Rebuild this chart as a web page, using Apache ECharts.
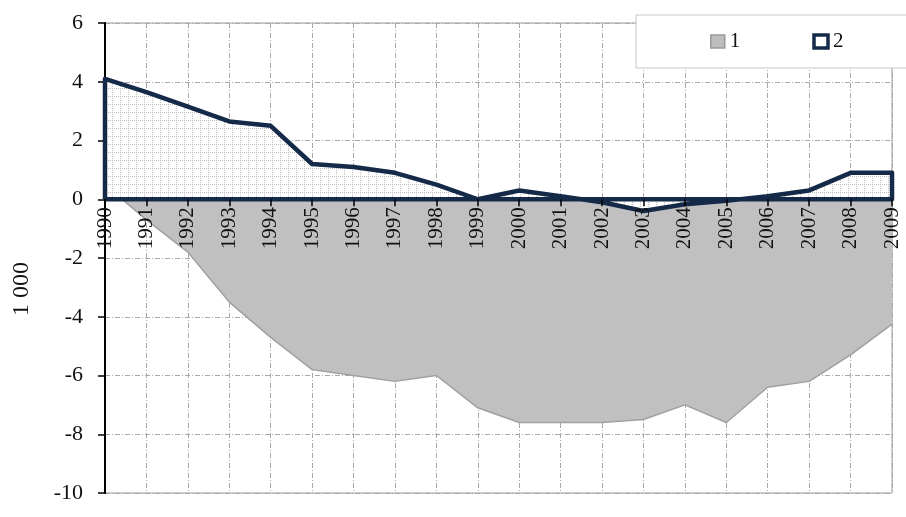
<!DOCTYPE html>
<html>
<head>
<meta charset="utf-8">
<title>Area chart 1990-2009</title>
<script src="https://cdn.jsdelivr.net/npm/echarts@6/dist/echarts.min.js"></script>
<style>html, body {margin: 0; padding: 0; background: #fff;}</style>
</head>
<body>
<div id="main" style="width: 906px; height: 517px;"></div>
<script type="text/javascript">
var years = [1990, 1991, 1992, 1993, 1994, 1995, 1996, 1997, 1998, 1999,
             2000, 2001, 2002, 2003, 2004, 2005, 2006, 2007, 2008, 2009];
var series1 = [0.5, -0.7, -1.8, -3.5, -4.7, -5.8, -6.0, -6.2, -6.0, -7.1,
               -7.6, -7.6, -7.6, -7.5, -7.0, -7.6, -6.4, -6.2, -5.3, -4.25];
var series2 = [4.1, 3.65, 3.15, 2.65, 2.5, 1.2, 1.1, 0.9, 0.5, 0,
               0.3, 0.1, -0.1, -0.4, -0.17, -0.05, 0.1, 0.3, 0.9, 0.9];
var yTicks = [-10, 6, 2]; // min, max, step
var legendNames = ['1', '2'];

var serif = 'Liberation Serif';
var navy = '#142a48';
var gridTop = 23, gridBottom = 24, chartH = 517;
var plotH = chartH - gridTop - gridBottom;
// move the year axis up to the zero line
var xAxisOffset = -(0 - yTicks[0]) / (yTicks[1] - yTicks[0]) * plotH;
var gridDash = {color: '#a8a8a8', type: [5, 2, 1, 2], width: 1};

// small dotted grid used as fill for series 2
function dotPattern() {
  var c = document.createElement('canvas');
  c.width = 8; c.height = 8;
  var ctx = c.getContext('2d');
  ctx.fillStyle = '#ffffff';
  ctx.fillRect(0, 0, 8, 8);
  ctx.fillStyle = '#bdbdbd';
  for (var i = 0; i < 8; i += 2) {
    ctx.fillRect(i, 0, 1, 1);
    ctx.fillRect(0, i, 1, 1);
  }
  return c;
}

var pts1 = years.map(function (y, i) { return [y, series1[i]]; });
var pts2 = years.map(function (y, i) { return [y, series2[i]]; });
var last = years.length - 1;
// outline of the area 2 shape, closed along the zero line
var outline2 = [[years[0], 0]].concat(pts2, [[years[last], 0], [years[0], 0]]);

var chart = echarts.init(document.getElementById('main'));
var option = {
  backgroundColor: '#ffffff',
  animation: false,
  grid: {left: 105, right: 14, top: gridTop, bottom: gridBottom, show: true,
         outerBoundsMode: 'none', containLabel: false,
         borderColor: '#9a9a9a', borderWidth: 1, backgroundColor: 'transparent'},
  legend: {
    left: 636, top: 15,
    width: 210,
    padding: [16, 70, 16, 74],
    itemGap: 72,
    itemWidth: 14, itemHeight: 13,
    backgroundColor: '#ffffff',
    borderColor: '#c8c8c8', borderWidth: 1,
    textStyle: {fontFamily: serif, fontSize: 21, color: '#111'},
    data: [
      {name: legendNames[0], icon: 'rect',
       itemStyle: {color: '#bdbdbd', borderColor: '#9a9a9a', borderWidth: 1.5}},
      {name: legendNames[1], icon: 'rect',
       itemStyle: {color: '#ffffff', borderColor: navy, borderWidth: 3.5}}
    ]
  },
  graphic: [{
    type: 'text', left: 10, top: 262,
    rotation: Math.PI / 2,
    style: {text: '1 000', fontFamily: serif, fontSize: 24, fill: '#111'}
  }],
  xAxis: [
    {
      // vertical grid lines, under the areas
      type: 'value', min: years[0], max: years[last], interval: 1,
      axisLine: {show: false}, axisTick: {show: false}, axisLabel: {show: false},
      splitLine: {show: true, lineStyle: gridDash}
    },
    {
      // year ticks and labels on the zero line, above the areas
      type: 'value', min: years[0], max: years[last], interval: 1,
      position: 'bottom', offset: xAxisOffset, z: 10,
      axisLine: {show: false, onZero: false},
      axisTick: {show: true, length: 7, lineStyle: {color: '#000', width: 1.5}},
      axisLabel: {rotate: 90, margin: 8, fontFamily: serif, fontSize: 21, color: '#111',
                  hideOverlap: false, showMinLabel: true, showMaxLabel: true,
                  formatter: function (v) { return String(v); }},
      splitLine: {show: false}
    }
  ],
  yAxis: {
    type: 'value', min: yTicks[0], max: yTicks[1], interval: yTicks[2],
    axisLine: {show: true, onZero: false, lineStyle: {color: '#000', width: 2}},
    axisTick: {show: true, length: 7, lineStyle: {color: '#000', width: 1.5}},
    axisLabel: {margin: 22, fontFamily: serif, fontSize: 22, color: '#111'},
    splitLine: {show: true, lineStyle: gridDash}
  },
  series: [
    {
      name: legendNames[0], type: 'line', data: pts1, symbol: 'none', z: 2,
      lineStyle: {color: '#a0a0a0', width: 1.5},
      itemStyle: {color: '#bdbdbd'},
      areaStyle: {color: '#c0c0c0', opacity: 1}
    },
    {
      name: legendNames[1], type: 'line', data: pts2, symbol: 'none', z: 3,
      lineStyle: {width: 0},
      itemStyle: {color: navy},
      areaStyle: {color: {image: dotPattern(), repeat: 'repeat'}, opacity: 1}
    },
    {
      name: 'outline', type: 'line', data: outline2, symbol: 'none', z: 4,
      lineStyle: {color: navy, width: 4.5, join: 'round'},
      silent: true
    }
  ]
};
chart.setOption(option);
</script>
</body>
</html>
